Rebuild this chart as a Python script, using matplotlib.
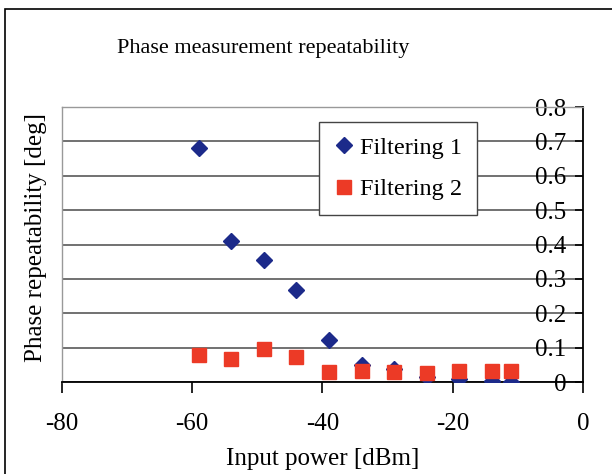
import numpy as np
import matplotlib.pyplot as plt
from matplotlib.patches import Rectangle

plt.rcParams['font.family'] = ['Liberation Serif', 'DejaVu Serif']
plt.rcParams['axes.unicode_minus'] = False

# Input power points [dBm] and repeatability [deg]
power = [-59, -54, -49, -44, -39, -34, -29, -24, -19, -14, -11]
filtering1 = [0.681, 0.41, 0.355, 0.268, 0.123, 0.05, 0.038, 0.015, 0.008, 0.002, 0.0]
filtering2 = [0.079, 0.067, 0.095, 0.074, 0.028, 0.033, 0.028, 0.025, 0.033, 0.033, 0.033]

xticks = [-80, -60, -40, -20, 0]
yticks = [0, 0.1, 0.2, 0.3, 0.4, 0.5, 0.6, 0.7, 0.8]
ytick_labels = ['0', '0.1', '0.2', '0.3', '0.4', '0.5', '0.6', '0.7', '0.8']

fig = plt.figure(figsize=(6.12, 4.74), dpi=100)
ax = fig.add_axes([0.1013, 0.194, 0.8513, 0.58])

# Outer chart frame (cut off at right and bottom)
fig.patches.append(Rectangle((0.008, -0.2), 1.2, 1.181, transform=fig.transFigure,
                             fill=False, edgecolor='black', linewidth=1.2))

ax.plot(power, filtering1, 'D', color='#1c2a8a', markersize=8.2, label='Filtering 1', zorder=3)
ax.plot(power, filtering2, 's', color='#ec3a26', markersize=10.5, label='Filtering 2', zorder=3)

ax.set_xlim(-80, 0)
ax.set_ylim(0, 0.8)
ax.set_xticks(xticks)
ax.set_yticks(yticks)
ax.set_yticklabels(ytick_labels)

# y axis sits at x = 0 (right), labels drawn just inside it
ax.yaxis.tick_right()
ax.tick_params(axis='y', direction='in', length=6, width=1.2, pad=-12, labelsize=18)
for t in ax.get_yticklabels():
    t.set_horizontalalignment('right')
ax.tick_params(axis='x', direction='out', length=8, width=1.2, pad=14, labelsize=18)

ax.grid(axis='y', color='#666666', linewidth=1.3)
ax.set_axisbelow(True)

for side in ['left', 'top']:
    ax.spines[side].set_color('#999999')
    ax.spines[side].set_linewidth(1.0)
ax.spines['bottom'].set_linewidth(1.3)
ax.spines['right'].set_linewidth(1.3)

ax.set_xlabel('Input power [dBm]', fontsize=18, labelpad=10)
ax.set_ylabel('Phase repeatability [deg]', fontsize=18)
ax.yaxis.set_label_position('left')
ax.yaxis.set_label_coords(-0.028, 0.525)
fig.text(0.43, 0.898, 'Phase measurement repeatability', fontsize=16, ha='center', va='center')

leg = ax.legend(loc='upper left', bbox_to_anchor=(0.493, 0.945), borderaxespad=0,
                fontsize=17.5, frameon=True, fancybox=False, framealpha=1,
                edgecolor='#444444', handletextpad=0.2, borderpad=0.6,
                labelspacing=0.8, handlelength=0.9)
leg.get_frame().set_linewidth(1.0)

fig.savefig('out.png', dpi=100)
